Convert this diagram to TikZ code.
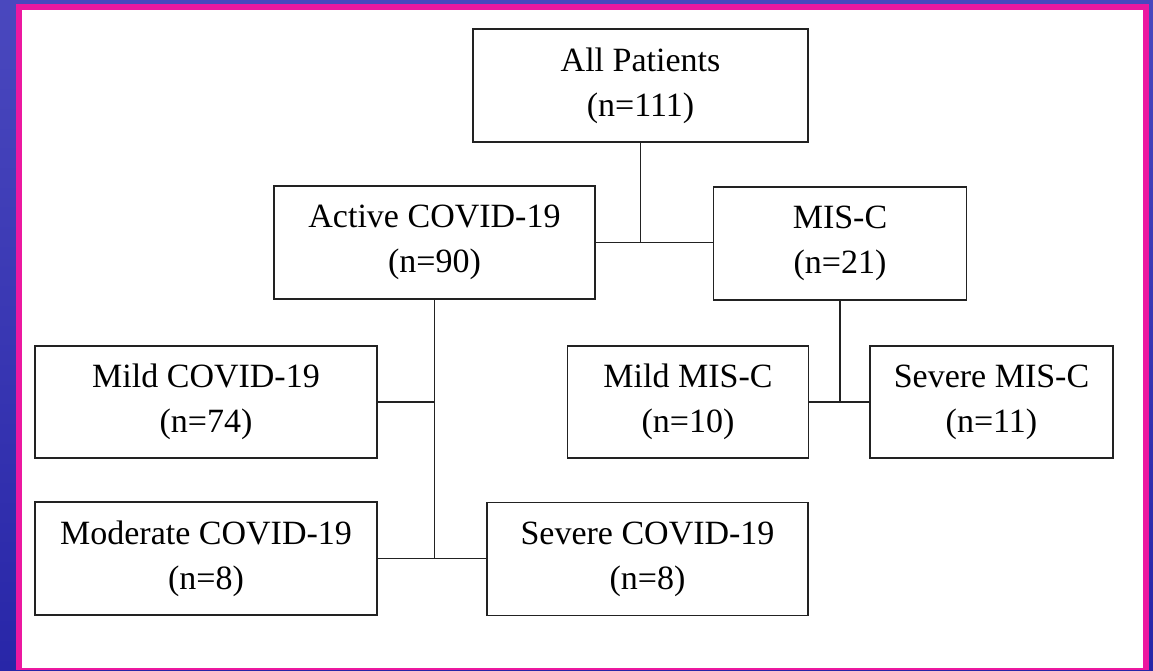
\documentclass[tikz,border=0pt]{standalone}
\usepackage{fontspec}
\setmainfont{Liberation Serif}
\definecolor{slideblue}{RGB}{74,72,190}
\definecolor{slidebluedark}{RGB}{40,38,168}
\definecolor{framepink}{RGB}{236,24,160}
\definecolor{boxline}{RGB}{34,34,34}
\begin{document}
\begin{tikzpicture}[x=1pt,y=-1pt,
  box/.style={draw=boxline, line width=1.8pt, fill=white, inner sep=0pt,
    minimum height=113pt, align=center,
    font=\fontsize{34}{45}\selectfont},
  conn/.style={draw=boxline, line width=1.8pt}]
\useasboundingbox (0,0) rectangle (1153,670);
% slide background, frame and white panel
\shade[top color=slideblue, bottom color=slidebluedark] (0,0) rectangle (1153,670);
\fill[framepink] (16,4) rectangle (1149,670);
\fill[white] (22,10) rectangle (1143,668);

% boxes
\node[box, minimum width=335pt] (all)    at (640.5,85.5)  {All Patients\\(n=111)};
\node[box, minimum width=321pt] (active) at (434.5,242.5) {Active COVID-19\\(n=90)};
\node[box, minimum width=253pt] (misc)   at (840,243.5)   {MIS-C\\(n=21)};
\node[box, minimum width=342pt, minimum height=112pt] (mildc) at (206,402) {Mild COVID-19\\(n=74)};
\node[box, minimum width=241pt, minimum height=112pt] (mildm) at (688,402) {Mild MIS-C\\(n=10)};
\node[box, minimum width=243pt, minimum height=112pt] (sevm)  at (991.5,402) {Severe MIS-C\\(n=11)};
\node[box, minimum width=342pt] (modc)   at (206,558.5)   {Moderate COVID-19\\(n=8)};
\node[box, minimum width=321pt] (sevc)   at (647.5,559)   {Severe COVID-19\\(n=8)};

% connectors
\coordinate (j1) at (all.south |- active.east);
\draw[conn] (all.south) -- (j1);
\draw[conn] (active.east) -- (misc.west |- active.east);
\draw[conn] (active.south) -- (active.south |- modc.east);
\draw[conn] (mildc.east) -- (mildc.east -| active.south);
\draw[conn] (modc.east) -- (sevc.west |- modc.east);
\draw[conn] (misc.south) -- (misc.south |- mildm.east);
\draw[conn] (mildm.east) -- (sevm.west);
\end{tikzpicture}
\end{document}
